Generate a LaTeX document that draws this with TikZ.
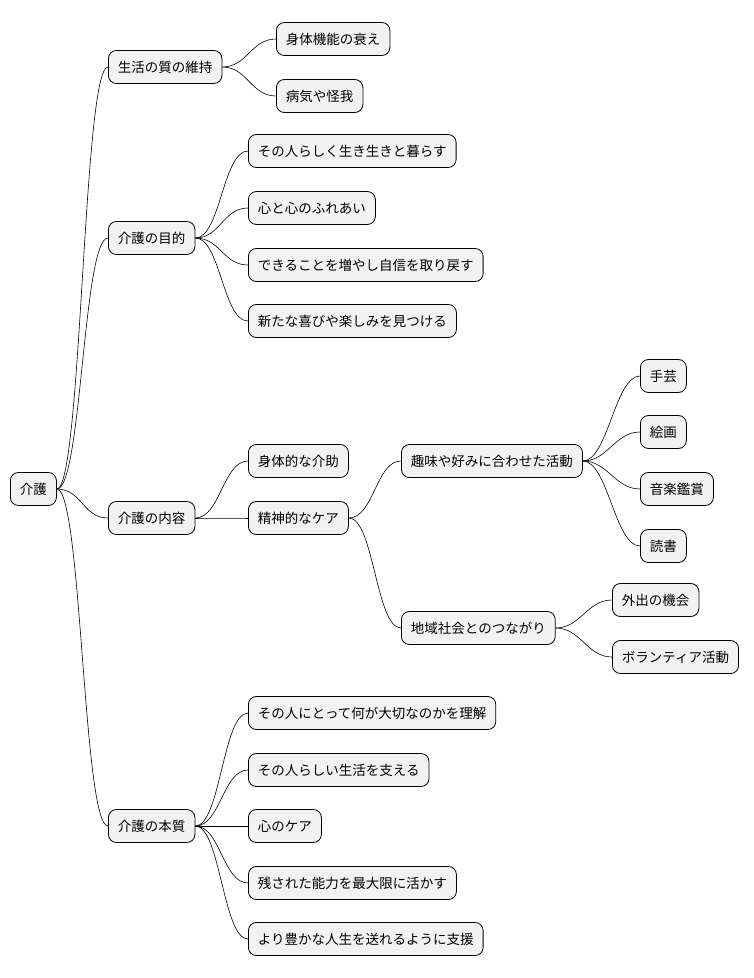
\documentclass[tikz,border=0pt]{standalone}
\usepackage{fontspec}
\setmainfont{Noto Sans CJK JP}
\begin{document}
\begin{tikzpicture}[x=1pt,y=-1pt,
  box/.style={draw=black,line width=0.8pt,fill=black!5,rounded corners=8pt,anchor=west,
    minimum height=33pt,inner xsep=9.5pt,font=\fontsize{13.5pt}{15pt}\selectfont},
  link/.style={draw=black,line width=0.6pt}]
\useasboundingbox (0,0) rectangle (754,978);
\node[box] (r) at (10,489) {介護};
\node[box] (a) at (108,67) {生活の質の維持};
\node[box] (a1) at (276,39) {身体機能の衰え};
\node[box] (a2) at (276,96) {病気や怪我};
\node[box] (b) at (108,238) {介護の目的};
\node[box] (b1) at (248,151) {その人らしく生き生きと暮らす};
\node[box] (b2) at (248,208) {心と心のふれあい};
\node[box] (b3) at (248,265) {できることを増やし自信を取り戻す};
\node[box] (b4) at (248,321) {新たな喜びや楽しみを見つける};
\node[box] (c) at (108,518) {介護の内容};
\node[box] (c1) at (248,461) {身体的な介助};
\node[box] (c2) at (248,518) {精神的なケア};
\node[box] (d) at (401,461) {趣味や好みに合わせた活動};
\node[box] (d1) at (640,376) {手芸};
\node[box] (d2) at (640,432) {絵画};
\node[box] (d3) at (640,489) {音楽鑑賞};
\node[box] (d4) at (640,546) {読書};
\node[box] (e) at (401,628) {地域社会とのつながり};
\node[box] (e1) at (612,600) {外出の機会};
\node[box] (e2) at (612,657) {ボランティア活動};
\node[box] (f) at (108,826) {介護の本質};
\node[box] (f1) at (248,713) {その人にとって何が大切なのかを理解};
\node[box] (f2) at (248,770) {その人らしい生活を支える};
\node[box] (f3) at (248,826) {心のケア};
\node[box] (f4) at (248,883) {残された能力を最大限に活かす};
\node[box] (f5) at (248,939) {より豊かな人生を送れるように支援};
\foreach \p/\c in {r/a,r/b,r/c,r/f,a/a1,a/a2,b/b1,b/b2,b/b3,b/b4,c/c1,c/c2,c2/d,c2/e,d/d1,d/d2,d/d3,d/d4,e/e1,e/e2,f/f1,f/f2,f/f3,f/f4,f/f5}
  \draw[link] (\p.east) .. controls +(25,0) and +(-25,0) .. (\c.west);
\end{tikzpicture}
\end{document}
